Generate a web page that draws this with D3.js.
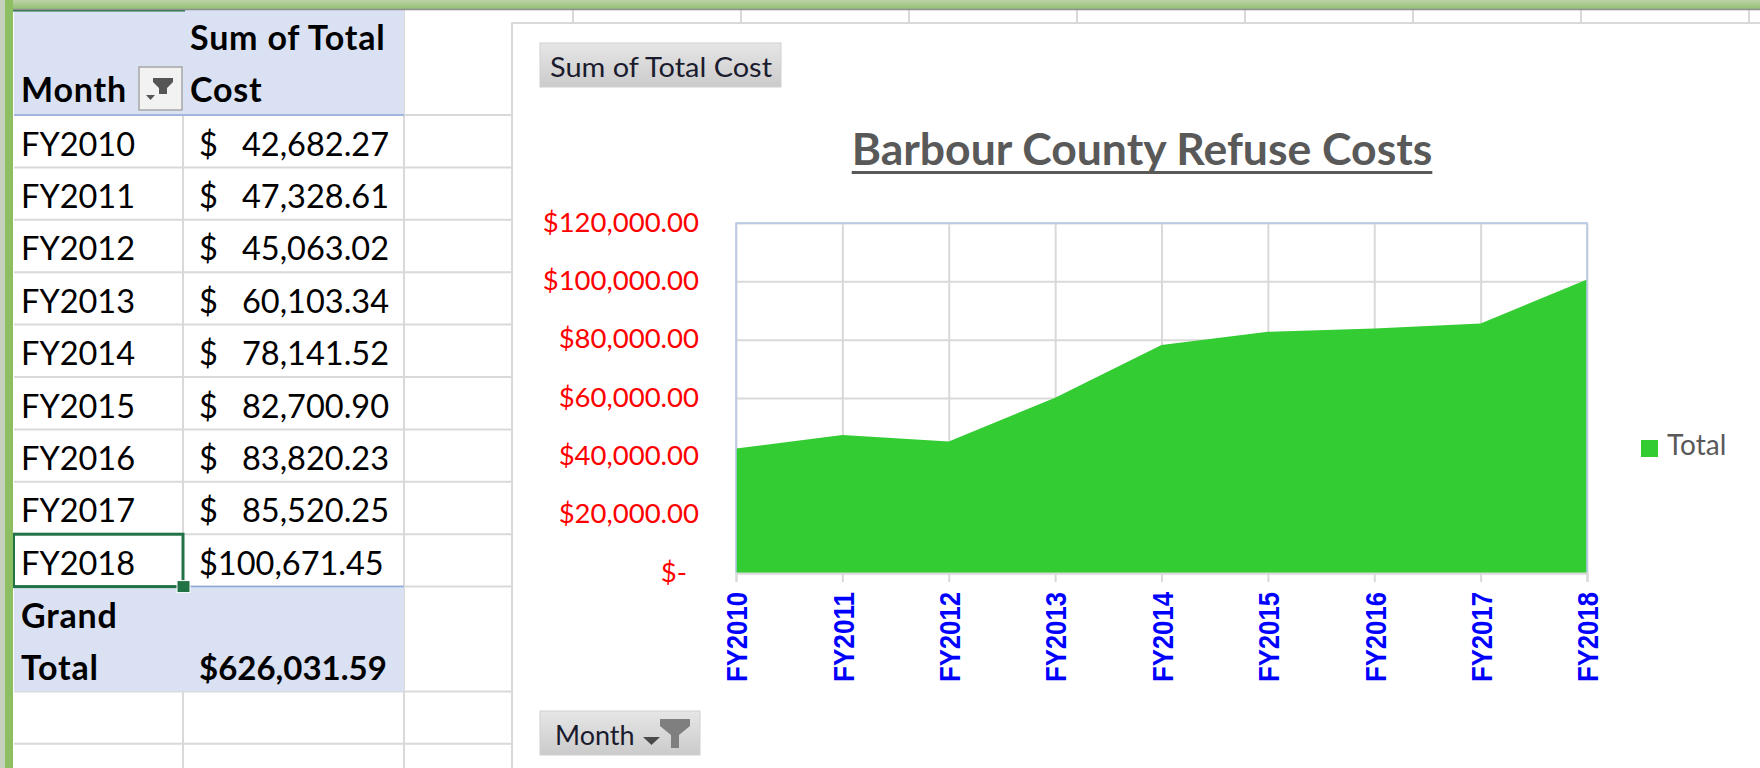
<!DOCTYPE html>
<html>
<head>
<meta charset="utf-8">
<script src="https://cdn.jsdelivr.net/npm/d3@7"></script>
<style>
  body { margin: 0; background: #fff; }
  svg { display: block; }
  text { font-family: Lato, "Open Sans", sans-serif; }
</style>
</head>
<body>
<div id="chart"></div>
<script>
var width = 1760, height = 768;

const months = ["FY2010", "FY2011", "FY2012", "FY2013", "FY2014", "FY2015", "FY2016", "FY2017", "FY2018"];
const costs = [42682.27, 47328.61, 45063.02, 60103.34, 78141.52, 82700.90, 83820.23, 85520.25, 100671.45];
const yTicks = [0, 20000, 40000, 60000, 80000, 100000, 120000];
const valueHeader = ["Sum of Total", "Cost"];
const rowHeader = "Month";
const totalLabel = ["Grand", "Total"];
const seriesName = "Total";
const chartTitle = "Barbour County Refuse Costs";

const data = months.map((m, i) => ({ month: m, cost: costs[i] }));
const grandTotal = d3.sum(costs);
const money = d3.format(",.2f");

const svg = d3.select("#chart").append("svg")
    .attr("width", width)
    .attr("height", height);

const defs = svg.append("defs");
const btnGrad = defs.append("linearGradient").attr("id", "btn").attr("x1", 0).attr("y1", 0).attr("x2", 0).attr("y2", 1);
btnGrad.append("stop").attr("offset", "0%").attr("stop-color", "#e6e6e6");
btnGrad.append("stop").attr("offset", "100%").attr("stop-color", "#cbcbcb");
const topGrad = defs.append("linearGradient").attr("id", "topbar").attr("x1", 0).attr("y1", 0).attr("x2", 0).attr("y2", 1);
topGrad.append("stop").attr("offset", "0%").attr("stop-color", "#bcd3a8");
topGrad.append("stop").attr("offset", "100%").attr("stop-color", "#93bf74");

//----- spreadsheet behind everything -----
const sheet = svg.append("g");
const gridColor = "#d9d9d9";
const headTop = 10, headBottom = 115, rowH = 52.4;
const colLines = [183, 404, 573, 741, 909, 1077, 1245, 1413, 1581, 1749];

// row boundaries: header, 9 data rows, tall grand total row, then blank rows
const rowLines = [headBottom];
months.forEach((m, i) => rowLines.push(headBottom + rowH * (i + 1)));
const totalTop = rowLines[rowLines.length - 1];
const totalBottom = totalTop + rowH * 2;
rowLines.push(totalBottom, totalBottom + rowH, totalBottom + rowH * 2);

sheet.selectAll(".hline").data(rowLines).enter().append("line")
    .attr("x1", 14).attr("x2", width)
    .attr("y1", d => d).attr("y2", d => d)
    .attr("stroke", gridColor).attr("stroke-width", 2);

sheet.selectAll(".vline").data(colLines).enter().append("line")
    .attr("x1", d => d).attr("x2", d => d)
    .attr("y1", headTop).attr("y2", height)
    .attr("stroke", gridColor).attr("stroke-width", 2);

// pivot header + grand total bands
sheet.append("rect").attr("x", 14).attr("y", headTop).attr("width", 390).attr("height", headBottom - headTop).attr("fill", "#d9e1f2");
sheet.append("rect").attr("x", 14).attr("y", totalTop).attr("width", 390).attr("height", totalBottom - totalTop).attr("fill", "#d9e1f2");
[headBottom, totalTop].forEach(y => {
    sheet.append("line").attr("x1", 14).attr("x2", 404).attr("y1", y).attr("y2", y)
        .attr("stroke", "#8ea9db").attr("stroke-width", 1.5);
});
sheet.append("line").attr("x1", 13).attr("x2", 185).attr("y1", headTop + 0.5).attr("y2", headTop + 0.5)
    .attr("stroke", "#217346").attr("stroke-width", 2);

// table text
const table = svg.append("g").style("font-size", "32.5px").attr("fill", "#000");
function boldText(x, y, s, spacing) {
    return table.append("text").attr("x", x).attr("y", y)
        .attr("font-weight", 700).style("font-size", "34px")
        .style("letter-spacing", (spacing === undefined ? 0.8 : spacing) + "px").text(s);
}
boldText(190, 50, valueHeader[0]);
boldText(190, 102, valueHeader[1]);
boldText(21, 102, rowHeader);

// filter button in header
const fb = svg.append("g");
fb.append("rect").attr("x", 139).attr("y", 67).attr("width", 43).attr("height", 43)
    .attr("fill", "#f2f2f2").attr("stroke", "#a6a6a6").attr("stroke-width", 1.5);
fb.append("path").attr("d", "M146,95 L155,95 L150.5,100 Z").attr("fill", "#555");
fb.append("path").attr("d", "M153,78 L173,78 L173,82 L167,88 L167,94 L159,94 L159,88 L153,82 Z").attr("fill", "#555");

const rows = table.selectAll(".row").data(data).enter().append("g")
    .attr("transform", (d, i) => `translate(0, ${headBottom + rowH * i + 40.5})`);
rows.append("text").attr("x", 21).text(d => d.month);
rows.each(function (d) {
    const g = d3.select(this);
    if (d.cost >= 100000) {
        g.append("text").attr("x", 199).text("$" + money(d.cost));
    } else {
        g.append("text").attr("x", 199).text("$");
        g.append("text").attr("x", 389).attr("text-anchor", "end").text(money(d.cost));
    }
});

boldText(21, totalTop + 41.5, totalLabel[0]);
boldText(21, totalTop + 93.5, totalLabel[1]);
boldText(199, totalTop + 93.5, "$" + money(grandTotal), 0).style("font-size", "33px");

// active cell (FY2018)
const selTop = headBottom + rowH * 8;
svg.append("rect").attr("x", 13.5).attr("y", selTop).attr("width", 169.5).attr("height", rowH)
    .attr("fill", "none").attr("stroke", "#217346").attr("stroke-width", 3);
svg.append("rect").attr("x", 177).attr("y", selTop + rowH - 6).attr("width", 13).attr("height", 12)
    .attr("fill", "#217346").attr("stroke", "#fff").attr("stroke-width", 1);

//----- chart object -----
svg.append("rect").attr("x", 512).attr("y", 23).attr("width", 1300).attr("height", 800)
    .attr("fill", "#fff").attr("stroke", "#d9d9d9").attr("stroke-width", 2);

const plot = { l: 736, r: 1587, t: 223, b: 573 };
const xScale = d3.scalePoint().domain(months).range([plot.l, plot.r]);
const yScale = d3.scaleLinear().domain([0, 120000]).range([plot.b, plot.t]);

// gridlines
svg.append("g")
    .attr("transform", `translate(${plot.l},0)`)
    .call(d3.axisLeft(yScale).tickValues(yTicks).tickSize(-(plot.r - plot.l)).tickFormat(""))
    .call(g => g.select(".domain").remove())
    .call(g => g.selectAll("line").attr("stroke", gridColor).attr("stroke-width", 2));
svg.append("g")
    .attr("transform", `translate(0,${plot.t})`)
    .call(d3.axisBottom(xScale).tickSize(plot.b - plot.t).tickFormat(""))
    .call(g => g.select(".domain").remove())
    .call(g => g.selectAll("line").attr("stroke", gridColor).attr("stroke-width", 2));

// area
const area = d3.area()
    .x(d => xScale(d.month))
    .y0(yScale(0))
    .y1(d => yScale(d.cost));
svg.append("path").datum(data).attr("d", area).attr("fill", "#33cc33");

// plot border (light blue)
svg.append("path")
    .attr("d", `M${plot.l},${plot.b} V${plot.t} H${plot.r} V${plot.b}`)
    .attr("fill", "none").attr("stroke", "#b4c7e7").attr("stroke-width", 1.5);

// y axis labels
svg.append("g")
    .attr("transform", `translate(${plot.l},0)`)
    .call(d3.axisLeft(yScale).tickValues(yTicks).tickSize(0).tickPadding(37)
        .tickFormat(d => d === 0 ? "$-" : "$" + money(d)))
    .call(g => g.select(".domain").remove())
    .call(g => g.selectAll("text")
        .attr("fill", "#ff0000")
        .style("font-family", "Lato, sans-serif")
        .style("font-size", "27.5px")
        .attr("dx", d => d === 0 ? -12 : 0)
        .attr("dy", "0.3em"));

// x axis
svg.append("g")
    .attr("transform", `translate(0,${plot.b})`)
    .call(d3.axisBottom(xScale).tickSize(9))
    .call(g => g.select(".domain").attr("stroke", gridColor).attr("stroke-width", 2))
    .call(g => g.selectAll("line").attr("stroke", gridColor).attr("stroke-width", 2))
    .call(g => g.selectAll("text")
        .attr("transform", "rotate(-90)")
        .attr("x", -19).attr("y", 0).attr("dy", "0.36em")
        .attr("text-anchor", "end")
        .attr("fill", "#0000ff")
        .attr("textLength", 90)
        .attr("lengthAdjust", "spacingAndGlyphs")
        .style("font-family", "'Liberation Sans', Arial, sans-serif")
        .style("font-weight", 700)
        .style("font-size", "30px"));

// title
const title = svg.append("text")
    .attr("x", 1142).attr("y", 165)
    .attr("text-anchor", "middle")
    .attr("fill", "#595959")
    .style("font-size", "44.5px").style("font-weight", 700)
    .text(chartTitle);
const tw = title.node().getComputedTextLength();
svg.append("line").attr("x1", 1142 - tw / 2).attr("x2", 1142 + tw / 2)
    .attr("y1", 172.5).attr("y2", 172.5).attr("stroke", "#595959").attr("stroke-width", 3);

// legend
svg.append("rect").attr("x", 1641).attr("y", 440).attr("width", 17).attr("height", 17).attr("fill", "#33cc33");
svg.append("text").attr("x", 1667).attr("y", 455).attr("fill", "#595959")
    .style("font-size", "28px").text(seriesName);

// pivot field buttons
function fieldButton(x, y, w, label, withFilter) {
    const g = svg.append("g");
    g.append("rect").attr("x", x).attr("y", y).attr("width", w).attr("height", 44)
        .attr("fill", "url(#btn)").attr("stroke", "#d0d0d0").attr("stroke-width", 1);
    const t = g.append("text").attr("x", x + 10).attr("y", y + 34).attr("fill", "#1b1b2e")
        .style("font-size", "27px").text(label);
    if (withFilter) {
        g.append("path").attr("d", `M${x + 103},${y + 26} L${x + 120},${y + 26} L${x + 111.5},${y + 34} Z`).attr("fill", "#4a4a4a");
        g.append("path").attr("d", `M${x + 120},${y + 8} L${x + 150},${y + 8} L${x + 150},${y + 15} L${x + 139},${y + 24} L${x + 139},${y + 37} L${x + 131},${y + 37} L${x + 131},${y + 24} L${x + 120},${y + 15} Z`).attr("fill", "#7f7f7f");
    }
    return t;
}
fieldButton(540, 43, 241, "Sum of Total Cost", false).attr("textLength", 222).attr("lengthAdjust", "spacingAndGlyphs");
fieldButton(540, 711, 160, "Month", true).attr("x", 555);

//----- window frame (green) -----
svg.append("rect").attr("x", 0).attr("y", 0).attr("width", width).attr("height", 9).attr("fill", "url(#topbar)");
svg.append("line").attr("x1", 0).attr("x2", width).attr("y1", 9.5).attr("y2", 9.5).attr("stroke", "#8f8f8f").attr("stroke-width", 1.5);
svg.append("rect").attr("x", 0).attr("y", 0).attr("width", 5).attr("height", height).attr("fill", "#c5d1bc");
svg.append("rect").attr("x", 5).attr("y", 0).attr("width", 8).attr("height", height).attr("fill", "#8dbf62");
</script>
</body>
</html>
